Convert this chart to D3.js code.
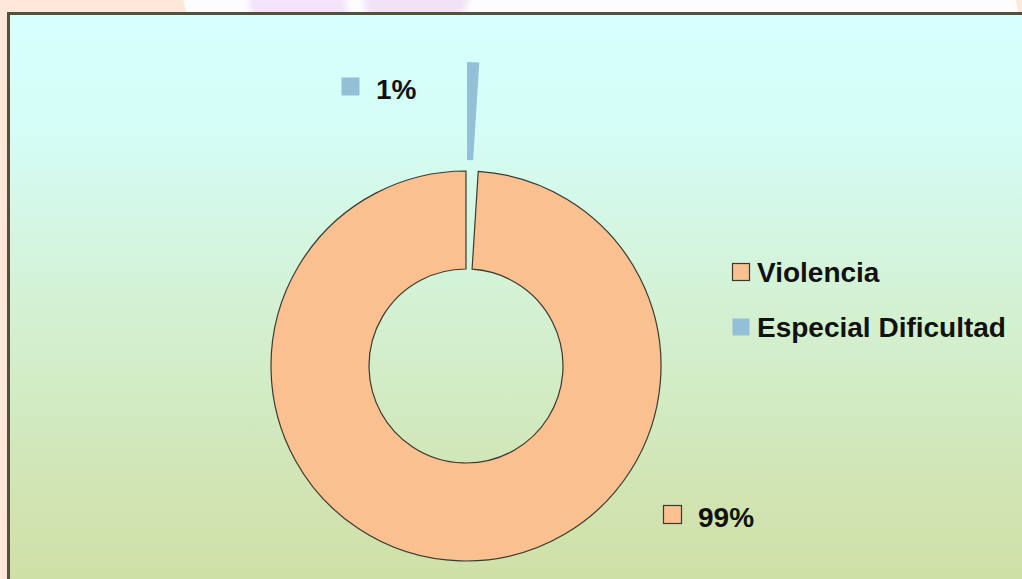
<!doctype html>
<html>
<head>
<meta charset="utf-8"/>
<title>Violencia / Especial Dificultad</title>
<script src="https://d3js.org/d3.v7.min.js"></script>
<style>
body{margin:0;padding:0;background:#fde8d9;}
svg{display:block;}
</style>
</head>
<body>
<script>
// datos
var categorias = ["Violencia", "Especial Dificultad"];
var valores = [99, 1];
var etiquetas = ["99%", "1%"];
var colores = ["#fac090", "#93c0d7"];

var W = 1022, H = 579;
var svg = d3.select("body").append("svg").attr("width", W).attr("height", H);
var defs = svg.append("defs");

// fondo exterior (franja superior)
svg.append("rect").attr("x", 0).attr("y", 0).attr("width", W).attr("height", H).attr("fill", "#fde8d9");
svg.append("path").attr("d", "M183,0 L1016,0 L1018,14 L187,14 Z").attr("fill", "#fdfdfd");
defs.append("filter").attr("id", "bl").append("feGaussianBlur").attr("stdDeviation", 3);
svg.append("path").attr("d", "M248,-4 L345,-4 L348,16 L252,16 Z").attr("fill", "#f3e3fa").attr("filter", "url(#bl)");
svg.append("path").attr("d", "M362,-4 L470,-4 L462,16 L368,16 Z").attr("fill", "#f1e2f7").attr("filter", "url(#bl)");

// degradado del area
var grad = defs.append("linearGradient").attr("id", "fondo")
  .attr("x1", 0).attr("y1", 0).attr("x2", 0).attr("y2", 1);
grad.append("stop").attr("offset", "0%").attr("stop-color", "#d6fffe");
grad.append("stop").attr("offset", "20%").attr("stop-color", "#d5fdf6");
grad.append("stop").attr("offset", "50%").attr("stop-color", "#d3f1d2");
grad.append("stop").attr("offset", "80%").attr("stop-color", "#d1e5b4");
grad.append("stop").attr("offset", "100%").attr("stop-color", "#cfdfa3");

svg.append("rect").attr("x", 8.5).attr("y", 13.5).attr("width", W + 10).attr("height", H + 10)
  .attr("fill", "url(#fondo)").attr("stroke", "#55503c").attr("stroke-width", 3);

// donut
var cx = 466, cy = 366, R = 195, r = 97;
var pie = d3.pie().sort(null).startAngle(2 * Math.PI * 0.01).endAngle(2 * Math.PI * 1.01);
var arc = d3.arc().innerRadius(r).outerRadius(R);
var arcs = pie(valores);
var explota = [0, 109];

var g = svg.append("g").attr("transform", "translate(" + cx + "," + cy + ")");
g.selectAll("path.slice").data(arcs).enter().append("path")
  .attr("class", "slice")
  .attr("d", arc)
  .attr("fill", function(d, i){ return colores[i]; })
  .attr("stroke", function(d, i){ return i == 0 ? "#3a3a30" : "none"; })
  .attr("stroke-width", 1.2)
  .attr("transform", function(d, i){
    var a = (d.startAngle + d.endAngle) / 2;
    return "translate(" + (explota[i] * Math.sin(a) * 0.3) + "," + (-explota[i] * Math.cos(a)) + ")";
  });

// etiquetas de datos
var posEtiq = [[197, 139], [-125, -289]];
var fuente = "'Liberation Sans', Arial, sans-serif";
arcs.forEach(function(d, i){
  var p = posEtiq[i];
  g.append("rect").attr("x", p[0] + 0.5).attr("y", p[1] + 0.5).attr("width", 18).attr("height", 18)
    .attr("fill", colores[i])
    .attr("stroke", i == 0 ? "#3a3a30" : "none").attr("stroke-width", 1.2);
  g.append("text").attr("x", p[0] + 35).attr("y", p[1] + 22)
    .attr("font-family", fuente).attr("font-weight", "bold").attr("font-size", 28)
    .attr("fill", "#111").text(etiquetas[i]);
});

// leyenda
var ley = svg.append("g").attr("transform", "translate(732,263)");
categorias.forEach(function(c, i){
  var y = i * 55;
  ley.append("rect").attr("x", 0.5).attr("y", y + 0.5).attr("width", 17).attr("height", 17)
    .attr("fill", colores[i])
    .attr("stroke", i == 0 ? "#3a3a30" : "none").attr("stroke-width", 1.2);
  ley.append("text").attr("x", 25).attr("y", y + 19)
    .attr("font-family", fuente).attr("font-weight", "bold").attr("font-size", 28)
    .attr("fill", "#111").text(c);
});
</script>
</body>
</html>
